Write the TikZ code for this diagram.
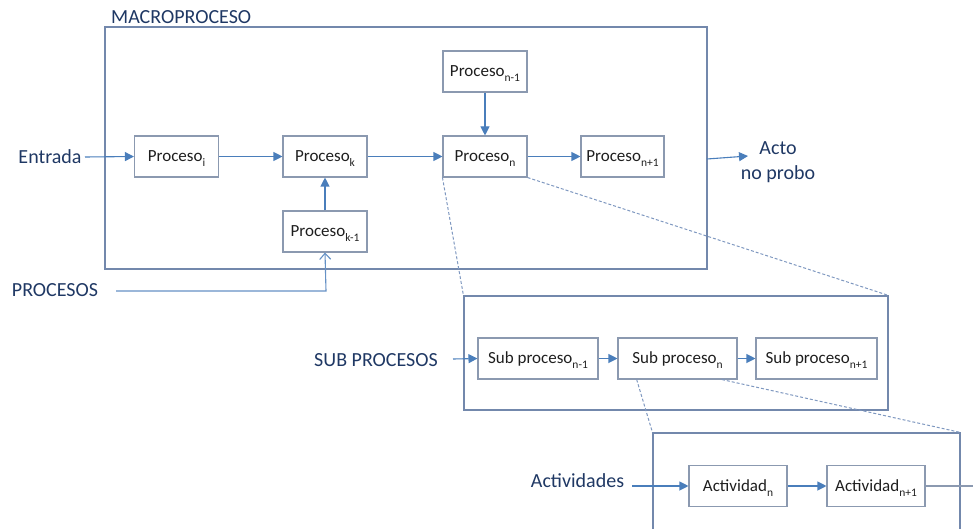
\documentclass[tikz,border=0pt]{standalone}
\usepackage{fontspec}
\setmainfont{Carlito}
\usetikzlibrary{arrows.meta,calc}
\definecolor{lblue}{HTML}{1F3864}
\definecolor{abl}{HTML}{4A7EBB}
\definecolor{bgray}{HTML}{8B99B0}
\definecolor{mgray}{HTML}{7388AC}
\definecolor{dsh}{HTML}{7F98C0}
\definecolor{txt}{HTML}{1E1E1E}
\newcommand{\sbs}[1]{\raisebox{-0.3em}[0pt][0pt]{\fontsize{11.5}{12}\selectfont #1}}
\begin{document}
\begin{tikzpicture}[x=1pt,y=-1pt,
  pbox/.style={draw=bgray,line width=1.1pt,rectangle,minimum height=41pt,inner sep=0pt,text=txt,font=\fontsize{17}{20}\selectfont},
  frame/.style={draw=mgray,line width=1.1pt,rectangle,inner sep=0pt},
  lbl/.style={text=lblue,font=\fontsize{20}{24}\selectfont,inner sep=0pt},
  arr/.style={draw=abl,line width=1.1pt,-{Triangle[length=9pt,width=9pt]}},
  dsl/.style={draw=dsh,line width=1pt,dash pattern=on 3pt off 2pt}]
\useasboundingbox (0,0) rectangle (973,529);
% frames
\node[frame,minimum width=602pt,minimum height=242pt] (macro) at (406,148) {};
\node[frame,minimum width=424pt,minimum height=114pt] (subbox) at (676,353) {};
\node[frame,minimum width=307pt,minimum height=134pt] (actbox) at (806.5,500) {};
% labels
\node[lbl,anchor=west] (lmacro) at (111,17) {MACROPROCESO};
\node[lbl] (lentrada) at (50,157) {Entrada};
\node[lbl] (lprocesos) at (55,290) {PROCESOS};
\node[lbl,align=center,font=\fontsize{20}{25}\selectfont] (lacto) at (778,162) {Acto\\no probo};
\node[lbl] (lsub) at (376,360) {SUB PROCESOS};
\node[lbl] (lact) at (577.5,481) {Actividades};
% process boxes
\node[pbox,minimum width=84pt] (pi) at (176.5,156.5) {Proceso\sbs{i}};
\node[pbox,minimum width=84pt] (pk) at (325,156.5) {Proceso\sbs{k}};
\node[pbox,minimum width=84pt] (pk1) at (325,231.5) {Proceso\sbs{k-1}};
\node[pbox,minimum width=84pt] (pn1) at (485,71.5) {Proceso\sbs{n-1}};
\node[pbox,minimum width=84pt] (pn) at (485,156.5) {Proceso\sbs{n}};
\node[pbox,minimum width=83pt] (pnp) at (622.5,156.5) {Proceso\sbs{n+1}};
% sub process boxes
\node[pbox,minimum width=120pt] (s1) at (538,358.5) {Sub proceso\sbs{n-1}};
\node[pbox,minimum width=119pt] (s2) at (677.5,358.5) {Sub proceso\sbs{n}};
\node[pbox,minimum width=121pt] (s3) at (816.5,358.5) {Sub proceso\sbs{n+1}};
% activity boxes
\node[pbox,minimum width=98pt] (a1) at (738,486) {Actividad\sbs{n}};
\node[pbox,minimum width=98pt] (a2) at (876,486) {Actividad\sbs{n+1}};
% free ends
\coordinate (e0) at (85,157);
\coordinate (p0) at (116,291);
\coordinate (p1) at (326,291);
\coordinate (m0) at (707,159);
\coordinate (m1) at (748,156);
\coordinate (s0) at (453,359);
\coordinate (c0) at (632,486);
\coordinate (c9) at (992,486);
% arrows
\draw[arr] (e0) -- (pi.west);
\draw[arr] (pi) -- (pk);
\draw[arr] (pk) -- (pn);
\draw[arr] (pk1) -- (pk);
\draw[arr] (pn1) -- (pn);
\draw[arr] (pn) -- (pnp);
\draw[arr] (m0) -- (m1);
\draw[draw=abl!85,line width=1.1pt,-{Straight Barb[length=6pt,width=11pt]}] (p0) -- (p1) -- (pk1.south);
\draw[arr] (s0) -- (s1.west);
\draw[arr] (s1) -- (s2);
\draw[arr] (s2) -- (s3);
\draw[arr] (c0) -- (a1.west);
\draw[arr] (a1) -- (a2);
\draw[draw=bgray,line width=1.1pt,-{Triangle[length=9pt,width=9pt]}] (a2.east) -- (c9);
% dashed zoom lines
\draw[dsl] (pn.south west) -- (subbox.north west);
\draw[dsl] (pn.south east) -- (subbox.north east);
\draw[dsl] ($(s2.south west)!0.16!(s2.south east)$) -- (actbox.north west);
\draw[dsl] ($(s2.south west)!0.87!(s2.south east)$) -- (actbox.north east);
\end{tikzpicture}
\end{document}
